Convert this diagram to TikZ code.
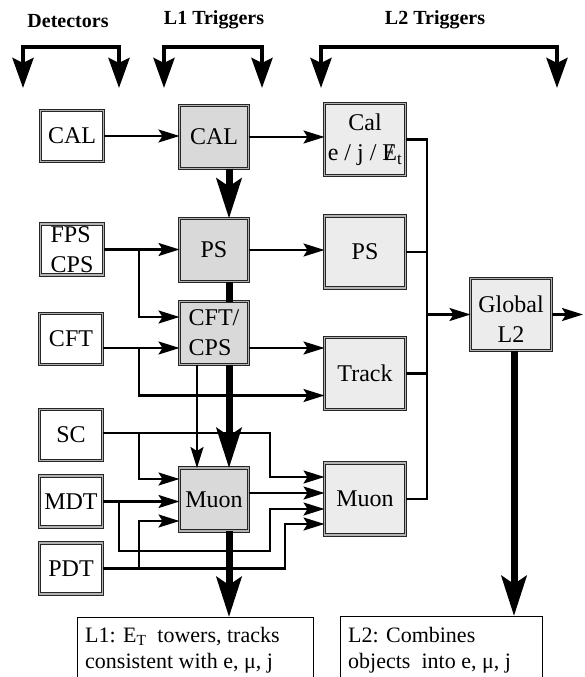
\documentclass[tikz,border=0pt]{standalone}
\usepackage{fontspec}
\setmainfont{Liberation Serif}
\usetikzlibrary{arrows.meta,calc}
\begin{document}
\begin{tikzpicture}[x=1pt,y=-1pt,
  box/.style={draw=black!85, line width=0.8pt, double=gray!60, double distance=1.6pt, inner sep=0pt, outer sep=0pt, font=\fontsize{24}{30}\selectfont, align=center},
  det/.style={box, fill=white, minimum width=63pt, minimum height=51pt},
  lone/.style={box, fill=gray!30, minimum width=69pt, minimum height=63pt},
  ltwo/.style={box, fill=gray!15, minimum width=81pt, minimum height=72pt},
  wire/.style={line width=2.1pt},
  conn/.style={wire, -{Stealth[length=21pt,width=13pt,inset=4pt]}},
  fatline/.style={line width=7pt},
  fatarrow/.style={fatline, -{Stealth[length=40pt,width=25pt,inset=8pt]}},
  brack/.style={line width=4.5pt, {Stealth[length=30pt,width=21pt,inset=5pt]}-{Stealth[length=30pt,width=21pt,inset=5pt]}},
  hdr/.style={font=\fontsize{20}{24}\selectfont\bfseries, inner sep=0pt},
  notebox/.style={draw, line width=1pt, fill=white, inner sep=0pt, outer sep=0pt, anchor=north west},
  notetext/.style={font=\fontsize{22}{26}\selectfont, anchor=base west, inner sep=0pt}
]
\useasboundingbox (0,0) rectangle (584,677);
\clip (0,0) rectangle (584,677);

% headers
\node[hdr] (hDet) at (68,21) {Detectors};
\node[hdr] (hL1) at (214,20) {L1 Triggers};
\node[hdr] (hL2) at (435,20) {L2 Triggers};

% brackets
\coordinate (b1l) at (23,88);  \coordinate (b1m) at (71,47);  \coordinate (b1r) at (119,88);
\coordinate (b2l) at (164,88); \coordinate (b2m) at (213,47); \coordinate (b2r) at (262,88);
\coordinate (b3l) at (321,88); \coordinate (b3m) at (440,47); \coordinate (b3r) at (557,88);
\draw[brack] (b1l) |- (b1m) -| (b1r);
\draw[brack] (b2l) |- (b2m) -| (b2r);
\draw[brack] (b3l) |- (b3m) -| (b3r);

% detectors
\node[det] (dCAL) at (72,136) {CAL};
\node[det, align=left] (dFPS) at (72,249.5) {FPS\\CPS};
\node[det] (dCFT) at (71,339) {CFT};
\node[det] (dSC)  at (71,435) {SC};
\node[det] (dMDT) at (71,501.5) {MDT};
\node[det] (dPDT) at (71,568.5) {PDT};

% L1
\node[lone] (l1CAL) at (214,137) {CAL};
\node[lone] (l1PS)  at (214,250) {PS};
\node[lone, align=left] (l1CFT) at (214,333) {CFT/\\CPS};
\node[lone] (l1Mu)  at (214,499.5) {Muon};

% L2
\node[ltwo] (l2Cal) at (365,139.5) {Cal\\e / j / \ooalign{E\cr\hidewidth/\hidewidth}\textsubscript{t}};
\node[ltwo] (l2PS)  at (365,252) {PS};
\node[ltwo] (l2Tr)  at (365,373.5) {Track};
\node[ltwo] (l2Mu)  at (365,499) {Muon};
\node[ltwo] (glob)  at (511,314.5) {\rule{0pt}{26pt}Global\\L2};

% text boxes
\node[notebox, minimum width=236pt, minimum height=100pt] (l1box) at (77,617) {};
\node[notebox, minimum width=202pt, minimum height=100pt] (l2box) at (340,616) {};
\node[notetext] (l1t1) at (85,642) {L1: E\textsubscript{T}~ towers, tracks};
\node[notetext] (l1t2) at (85,668) {consistent with e, μ, j};
\node[notetext] (l2t1) at (348,642) {L2: Combines};
\node[notetext] (l2t2) at (348,668) {objects~ into e, μ, j};

% helper coordinates
\coordinate (bx) at (139,0);
\coordinate (mx) at (119,0);
\coordinate (tx) at (197,0);
\coordinate (fx) at (229,0);
\coordinate (vx) at (270,0);
\coordinate (px) at (285,0);
\coordinate (busx) at (427,0);
\coordinate (gx) at (514,0);
\coordinate (outc) at (583,0);
\coordinate (mdtlow) at (0,551);

% CAL row
\draw[conn] (dCAL.east) -- (dCAL.east -| l1CAL.west);
\draw[conn] (l1CAL.east) -- (l1CAL.east -| l2Cal.west);
\draw[fatarrow] (l1CAL.south -| fx) -- (l1PS.north -| fx);

% FPS/CPS
\draw[conn] (dFPS.east) -- (dFPS.east -| l1PS.west);
\draw[conn] (dFPS.east -| bx) |- ($(l1CFT.west)+(0,-16)$);
\draw[conn] (l1PS.east) -- (l1PS.east -| l2PS.west);
\draw[fatline] (l1PS.south -| fx) -- (l1CFT.north -| fx);

% CFT
\coordinate (cftout) at ($(dCFT.east)+(0,9)$);
\draw[conn] (cftout) -- (cftout -| l1CFT.west);
\draw[conn] (cftout -| bx) |- ($(l2Tr.west)+(0,22)$);
\draw[conn] (cftout -| l1CFT.east) -- (cftout -| l2Tr.west);
\draw[conn] (l1CFT.south -| tx) -- (l1Mu.north -| tx);
\draw[fatarrow] (l1CFT.south -| fx) -- (l1Mu.north -| fx);

% SC
\coordinate (scout) at ($(dSC.east)+(0,-2)$);
\draw[conn] (scout) -- (scout -| vx) |- ($(l2Mu.west)+(0,-22)$);
\draw[conn] (scout -| bx) |- ($(l1Mu.west)+(0,-20.5)$);

% MDT
\draw[conn] (dMDT.east) -- (dMDT.east -| l1Mu.west);
\draw[conn] (dMDT.east -| mx) -- (mx |- mdtlow) -- (vx |- mdtlow) |- ($(l2Mu.west)+(0,10)$);

% PDT
\draw[conn] (dPDT.east) -- (dPDT.east -| px) |- ($(l2Mu.west)+(0,25)$);
\draw[conn] (dPDT.east -| bx) |- ($(l1Mu.west)+(0,21.5)$);

% L1 muon out
\coordinate (muout) at ($(l1Mu.east)+(0,-6.5)$);
\draw[conn] (muout) -- (muout -| l2Mu.west);
\draw[fatarrow] (l1Mu.south -| fx) -- (l1box.north -| fx);

% L2 bus
\draw[wire] (l2Cal.east) -- (l2Cal.east -| busx) -- (busx |- l2Mu.east) -- (l2Mu.east);
\draw[wire] (l2PS.east) -- (l2PS.east -| busx);
\draw[wire] (l2Tr.east) -- (l2Tr.east -| busx);
\draw[conn] (busx |- glob.west) -- (glob.west);
\draw[conn] (glob.east) -- (glob.east -| outc);
\draw[fatarrow] (glob.south -| gx) -- (l2box.north -| gx);
\end{tikzpicture}
\end{document}
